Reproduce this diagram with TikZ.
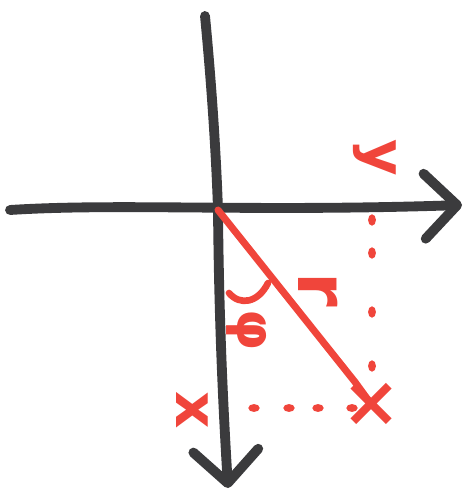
\documentclass[tikz,border=0pt]{standalone}
\usepackage{fontspec}
\usepackage{xcolor}
\usepackage{tikz}
\usetikzlibrary{arrows.meta,shapes.geometric}
\setmainfont{DejaVu Sans}

\definecolor{marker}{HTML}{3B3B3D}
\definecolor{rojo}{HTML}{F0453B}

\begin{document}
\begin{tikzpicture}[x=0.02cm, y=-0.02cm,
      eje/.style={draw=marker, line width=5.6pt, line cap=round,
                  -{Straight Barb[length=6.5mm, width=13mm, round]}},
      radio/.style={draw=rojo, line width=4pt, line cap=round},
      punto/.style={fill=rojo, ellipse, inner sep=0pt, minimum width=4.5pt, minimum height=6.5pt},
      etiqueta/.style={text=rojo, rotate=-90, inner sep=0pt, font=\bfseries\fontsize{30}{30}\selectfont}]
    \useasboundingbox (0,0) rectangle (470,502);
    % axes
    \coordinate (o) at (218,210);
    \coordinate (ytop) at (205,16);
    \coordinate (yend) at (228,488);
    \coordinate (xbeg) at (10,210);
    \coordinate (xend) at (462,205);
    \draw[eje] (ytop) .. controls (214,110) and (217,180) .. (o)
      .. controls (219,330) and (224,420) .. (yend);
    \draw[eje] (xbeg) .. controls (120,203) and (250,212) .. (xend);
    % point and radius
    \node[etiqueta, font=\bfseries\fontsize{40}{40}\selectfont] (p) at (371,404) {×};
    \draw[radio] (o) -- (355,382) -- (p.center);
    % projections
    \foreach \y in {220,253,312,366}
      \node[punto] at (372,\y) {};
    \foreach \x in {254,289,318,352}
      \node[punto, rotate=90] at (\x,408) {};
    % labels
    \node[etiqueta, font=\bfseries\fontsize{33}{33}\selectfont] (lx) at (192,410) {x};
    \node[etiqueta, font=\bfseries\fontsize{32}{32}\selectfont] (ly) at (375,158) {y};
    \node[etiqueta, font=\bfseries\fontsize{40}{40}\selectfont] (lr) at (318,290) {r};
    \node[etiqueta, font=\bfseries\fontsize{30}{30}\selectfont] (lphi) at (247,330) {φ};
    \draw[radio, line width=3.8pt] (229,293) .. controls (240,306) and (258,303) .. (268,283);
  \end{tikzpicture}
\end{document}
